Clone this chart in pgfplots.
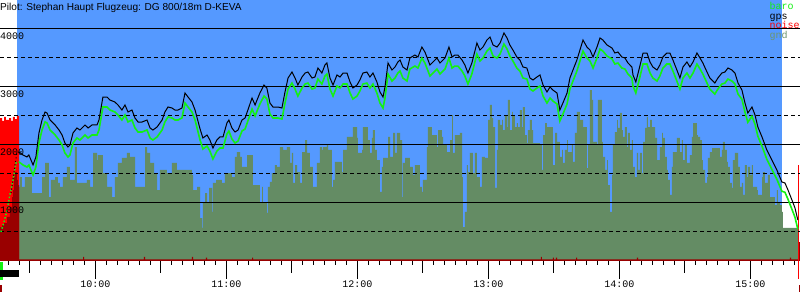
\documentclass[border=0pt]{standalone}
\usepackage{fontspec}
\setmainfont{Liberation Sans}
\newfontfamily\monofont{Liberation Mono}
\usepackage{pgfplots}
\usepackage{pgfplotstable}
\pgfplotsset{compat=1.18}
\definecolor{bgblue}{RGB}{85,153,255}
\definecolor{gndgreen}{RGB}{100,140,100}
\definecolor{barogreen}{RGB}{20,240,20}
\definecolor{noisered}{RGB}{255,0,0}
\definecolor{darkred}{RGB}{153,0,0}
\definecolor{gndtext}{RGB}{110,150,110}

% time in minutes after 09:00, altitude in m
\pgfplotstableread{
t gps baro
25.0 1879 1707
26.8 1827 1655
28.6 1793 1621
29.5 1827 1655
31.4 1655 1483
32.7 1793 1621
34.1 2207 2035
35.5 2431 2259
36.9 2569 2397
37.8 2552 2380
39.2 2431 2259
41.5 2345 2173
43.3 2258 2086
44.7 2172 2000
46.0 2034 1862
47.4 1965 1793
48.3 2000 1828
49.7 2207 2035
51.5 2293 2121
52.9 2258 2086
55.2 2345 2173
56.6 2293 2121
58.4 2345 2173
60.7 2345 2173
61.6 2431 2259
63.4 2827 2655
65.3 2827 2655
66.6 2776 2604
68.9 2741 2569
70.3 2690 2518
72.1 2603 2431
73.5 2690 2518
74.9 2569 2397
76.7 2603 2431
78.1 2465 2293
79.5 2396 2224
81.3 2396 2224
83.6 2431 2259
85.0 2293 2121
86.3 2258 2086
88.2 2310 2138
90.5 2431 2259
91.8 2569 2397
93.2 2655 2483
95.0 2638 2466
96.4 2603 2431
97.8 2603 2431
99.6 2638 2466
101.0 2896 2724
102.4 2827 2655
104.2 2741 2569
105.6 2603 2431
107.9 2276 2086
109.2 2121 1931
111.1 2172 1982
112.4 2086 1896
113.8 1948 1758
115.6 2086 1896
117.0 2138 1948
118.4 2138 1948
120.2 2379 2189
121.1 2431 2241
122.5 2293 2103
123.9 2224 2034
125.3 2258 2068
127.1 2431 2241
128.5 2465 2275
129.8 2603 2413
131.7 2810 2620
133.1 2690 2500
134.0 2776 2586
135.3 2896 2706
137.2 3034 2844
138.5 2983 2793
139.9 2724 2534
141.3 2655 2465
143.6 2655 2465
145.4 2638 2448
146.8 2914 2724
148.2 3155 2965
150.0 3258 3068
151.4 3155 2965
152.7 3034 2844
154.6 3172 2982
156.0 3241 3051
157.3 3258 3068
159.2 3155 2965
160.5 3172 2982
161.9 3327 3137
163.7 3241 3051
165.1 3379 3189
166.0 3414 3224
167.4 3155 2965
168.8 3034 2844
170.6 3207 3017
172.0 3172 2982
173.4 3241 3051
175.2 3241 3051
176.6 3086 2896
177.9 2983 2793
179.8 3034 2844
181.1 3121 2931
182.5 3241 3051
184.3 3258 3068
185.7 3172 2982
187.1 3241 3051
188.9 3086 2896
190.3 2914 2724
191.7 2827 2637
192.6 3000 2810
194.0 3414 3224
195.8 3293 3103
197.2 3345 3155
198.5 3431 3241
199.5 3465 3275
200.8 3345 3155
202.7 3293 3103
204.0 3500 3310
206.3 3551 3361
207.7 3517 3327
209.5 3689 3499
210.9 3603 3413
213.2 3379 3189
214.6 3431 3241
216.4 3500 3310
217.8 3414 3224
220.1 3500 3310
221.9 3689 3499
223.3 3517 3327
224.6 3551 3361
226.0 3551 3361
227.9 3465 3275
229.2 3379 3189
230.6 3241 3051
232.4 3414 3224
234.7 3758 3568
236.1 3638 3448
237.5 3689 3499
239.3 3810 3620
240.7 3862 3672
242.1 3724 3534
243.9 3689 3499
245.3 3758 3568
247.1 3931 3741
248.5 3845 3655
249.8 3724 3534
251.2 3638 3448
253.0 3517 3327
254.4 3465 3275
255.8 3345 3155
257.6 3327 3137
259.0 3155 2965
260.4 3121 2931
262.2 3172 2982
263.6 3207 3017
265.0 3034 2844
266.8 2914 2724
268.2 3000 2810
269.5 2948 2758
271.4 2896 2706
272.7 2603 2413
274.1 2724 2534
276.0 2896 2706
277.3 3155 2965
278.7 3293 3103
280.5 3465 3275
281.9 3638 3448
283.3 3810 3620
285.1 3689 3499
286.5 3638 3448
287.9 3517 3327
289.7 3689 3499
291.1 3845 3655
292.4 3810 3620
294.3 3724 3534
296.6 3672 3482
297.9 3586 3396
299.3 3603 3413
301.1 3517 3327
302.5 3500 3310
303.9 3414 3224
305.7 3345 3155
306.2 3207 3017
307.5 3086 2896
308.9 3293 3103
310.8 3586 3396
312.6 3586 3396
314.0 3431 3241
315.3 3345 3155
317.2 3293 3103
318.5 3379 3189
319.9 3517 3327
321.7 3586 3396
323.1 3586 3396
324.5 3465 3275
326.3 3293 3103
327.7 3155 2965
329.1 3345 3155
330.9 3431 3241
332.3 3345 3155
333.7 3431 3241
335.5 3586 3396
336.9 3500 3310
338.2 3414 3224
340.1 3258 3068
341.4 3155 2965
343.7 3069 2879
345.1 3155 2965
346.9 3241 3051
348.3 3258 3068
349.7 3327 3137
351.5 3293 3103
352.9 3241 3051
354.3 3069 2879
356.1 2948 2788
357.5 2724 2564
358.8 2552 2392
360.7 2655 2495
362.1 2517 2357
363.4 2310 2150
365.3 2138 1978
367.5 1914 1754
369.8 1741 1581
372.1 1569 1409
374.4 1362 1202
375.8 1345 1185
377.2 1224 1064
379.0 1052 892
380.4 914 754
381.7 707 547
}\flight

\pgfplotstableread{
t gnd
25.0 1276
25.4 1448
26.3 1276
27.7 1448
30.9 1172
35.5 1448
36.9 1690
38.7 1103
39.6 1397
41.5 1448
42.8 1345
43.7 1276
45.1 1448
46.9 1621
48.3 1397
50.6 1965
51.5 1345
56.1 1397
57.5 1276
58.9 1862
60.7 1741
61.1 1827
63.4 1517
65.3 1276
67.6 1103
68.9 1448
70.3 1690
72.1 1776
74.4 1862
75.8 1793
78.1 1276
82.7 1965
83.6 1862
85.0 1690
86.8 1517
88.2 1224
89.5 1569
92.7 1517
95.0 1690
97.3 1569
104.2 1483
104.7 1224
106.5 1276
107.9 741
108.8 569
109.2 1000
110.2 1172
111.1 1000
112.0 1259
113.4 845
113.8 1345
115.2 1397
117.9 1345
119.3 1517
122.5 1448
123.9 1793
124.8 1879
126.2 1793
127.1 1621
129.4 1827
132.1 1310
135.3 1017
136.3 1276
136.7 1000
138.5 828
139.0 1276
139.9 1362
140.8 1517
142.2 1655
143.1 1621
144.5 1965
145.9 1914
147.7 1965
149.1 1690
150.0 1862
150.5 1345
151.4 1655
152.3 1534
153.7 1345
154.6 1879
156.0 2086
156.9 1862
158.2 1621
159.6 1276
161.4 1690
162.8 1965
163.7 1914
164.2 1965
166.0 2000
166.5 1914
168.3 1276
168.8 1397
169.7 1707
172.9 1534
173.4 1914
175.2 2138
177.9 2310
179.8 2121
180.2 1862
182.1 1914
182.5 2310
184.8 2086
185.7 1862
186.6 2121
187.1 2258
188.0 1914
188.9 1741
190.3 1190
191.2 1621
191.7 1776
194.0 2138
194.9 1793
196.3 2207
197.2 1862
198.1 2207
199.5 2086
200.4 1103
200.8 1690
201.8 1776
204.0 1621
205.4 1483
206.3 1655
208.6 1276
209.5 1190
210.0 1397
211.8 1965
212.3 2310
214.1 2172
216.4 1965
216.9 2258
218.7 2138
219.2 2000
221.0 1879
222.4 2086
223.3 2517
223.7 1862
224.6 2172
226.9 2207
227.9 1448
228.3 586
229.2 845
230.1 1655
230.6 1534
231.5 1862
232.9 1517
233.8 1862
234.7 1448
236.1 1276
237.0 1793
238.4 1776
239.8 2431
240.7 2690
241.6 2465
242.1 2310
243.0 1259
243.9 1914
244.3 2431
245.3 2345
246.2 2431
246.6 2258
247.5 2517
248.5 2310
248.9 2776
249.8 2258
250.8 2569
251.2 2517
252.1 2310
253.0 2379
253.5 2310
254.4 2603
255.3 2310
255.8 2655
256.7 2172
257.6 2034
258.1 2258
259.0 2431
259.9 2258
260.4 2034
263.6 2000
264.5 1569
265.0 2172
265.9 2379
266.8 2310
269.5 1655
270.5 2207
271.4 2052
272.7 1793
273.7 1914
274.1 1690
275.0 1914
276.0 2086
276.4 1879
278.2 2000
278.7 1707
279.6 2207
280.5 2569
281.9 2431
283.3 2310
285.1 1603
285.6 2000
286.5 2948
287.4 2776
287.9 2052
289.7 2000
290.1 2776
292.0 2052
292.4 1793
293.4 1569
294.3 1741
294.7 1310
295.6 845
296.6 1483
297.0 2000
297.9 2224
298.9 2431
299.3 2293
300.2 2552
301.1 2258
301.6 2138
302.5 2310
303.4 1965
303.9 2207
304.8 1914
305.7 2086
306.2 1621
307.1 1448
308.0 1862
308.5 1569
309.4 1862
310.3 1517
310.8 2052
311.7 2293
312.6 2483
313.0 2310
314.0 2431
314.9 2310
316.3 2121
317.2 1741
318.5 1965
319.5 2207
319.9 2121
320.8 1793
321.7 1569
322.2 1397
323.1 1138
324.0 1621
324.5 1879
326.3 2121
327.7 1879
328.6 2086
329.1 1741
330.0 2000
330.9 1690
332.3 1827
333.2 2138
333.7 2379
335.5 2172
335.9 2138
336.9 2086
337.8 1741
338.2 1569
339.2 1345
340.1 1448
340.5 1776
341.4 1879
342.4 1948
346.0 1793
346.9 1914
347.4 2052
348.3 1914
349.2 1707
349.7 1621
350.6 1345
351.5 1259
352.0 1741
352.9 1862
354.3 1621
355.2 1276
356.1 1345
356.6 1138
357.5 1655
358.4 1448
358.8 1621
359.8 1483
360.7 1655
361.1 1276
363.0 1224
363.4 1138
365.3 1448
365.7 1534
366.6 1345
368.0 1483
368.9 1103
371.2 965
372.1 1224
372.6 1017
373.5 965
374.4 845
374.9 569
381.7 569
}\ground

\begin{document}
\begin{tikzpicture}
\begin{axis}[
  scale only axis, width=800pt, height=261pt,
  xmin=16.26, xmax=382.7, ymin=0, ymax=4500,
  axis x line*=bottom, axis y line=none,
  x axis line style={black, line width=1pt, -},
  clip=false,
  xtick={60,120,180,240,300,360},
  xticklabels={10:00,11:00,12:00,13:00,14:00,15:00},
  minor xtick={20,25,...,380},
  extra x ticks={30,90,150,210,270,330},
  extra x tick labels={},
  extra x tick style={major tick length=12pt},
  ytick=\empty,
  tick align=outside,
  major tick length=18pt, minor tick length=4pt,
  tick style={black, line width=1pt},
  xticklabel style={font=\monofont\fontsize{10}{10}\selectfont, inner sep=2pt},
]
\coordinate (SW) at (rel axis cs:0,0);
\coordinate (NE) at (rel axis cs:1,1);
% flight period background
\addplot[fill=bgblue, draw=none] coordinates {(24.0,4500) (374.4,4500)} \closedcycle;
% ground
\addplot[const plot, fill=gndgreen, draw=none] table[x=t, y=gnd] {\ground} \closedcycle;
% noise
\addplot[const plot, fill=noisered, draw=none] coordinates {(16.26,2465) (17.2,2414) (18.1,2483) (19.0,2431) (20.4,2465) (21.3,2414) (22.2,2483) (23.1,2448) (24.0,2500) (25.0,2500)} \closedcycle;
\addplot[const plot, fill=darkred, draw=none] coordinates {(16.26,586) (17.2,621) (18.1,655) (19.5,759) (20.8,931) (21.8,1103) (22.2,1224) (22.7,1448) (23.1,1534) (24.0,1397) (24.5,1310) (25.0,1310)} \closedcycle;
\addplot[const plot, fill=darkred, draw=none] coordinates {(25.0,26) (54.3,70) (54.8,26) (82.2,70) (82.7,26) (104.2,70) (104.7,26) (110.6,60) (111.1,26) (131.7,60) (132.2,26) (264.0,70) (264.5,26) (269.5,60) (270.0,26) (270.9,60) (271.4,26) (280.1,60) (280.6,26) (308.0,60) (308.5,26) (378.1,60) (378.6,26) (381.7,26)} \closedcycle;
\addplot[fill=noisered, draw=none] coordinates {(381.7,1655) (382.2,1655)} \closedcycle;
\addplot[fill=darkred, draw=none] coordinates {(382.2,328) (382.7,328)} \closedcycle;
% grid
\addplot[black, line width=1pt] coordinates {(16.26,1000) (382.7,1000)};
\addplot[black, line width=1pt] coordinates {(16.26,2000) (382.7,2000)};
\addplot[black, line width=1pt] coordinates {(16.26,3000) (382.7,3000)};
\addplot[black, line width=1pt] coordinates {(16.26,4000) (382.7,4000)};
\addplot[black, line width=1pt, dash pattern=on 4pt off 3pt] coordinates {(16.26,500) (382.7,500)};
\addplot[black, line width=1pt, dash pattern=on 4pt off 3pt] coordinates {(16.26,1500) (382.7,1500)};
\addplot[black, line width=1pt, dash pattern=on 4pt off 3pt] coordinates {(16.26,2500) (382.7,2500)};
\addplot[black, line width=1pt, dash pattern=on 4pt off 3pt] coordinates {(16.26,3500) (382.7,3500)};
% baro and gps
\addplot[barogreen, line width=1.5pt, dash pattern=on 1.5pt off 2pt] coordinates {(16.7,500) (18.1,672) (19.5,879) (20.8,1138) (22.2,1397) (23.6,1690) (25.0,1707)};
\addplot[barogreen, line width=1.6pt] table[x=t, y=baro] {\flight};
\addplot[black, line width=1pt, dash pattern=on 1pt off 2.5pt] coordinates {(21.3,1172) (22.2,1397) (23.1,1655) (24.0,1862) (25.0,1879)};
\addplot[black, line width=1pt] table[x=t, y=gps] {\flight};
% status bars below the axis
\addplot[fill=barogreen, draw=none] coordinates {(16.26,-17) (16.26,-328) (17.6,-328) (17.6,-17)} --cycle;
\addplot[fill=black, draw=none] coordinates {(16.26,-155) (16.26,-276) (25.0,-276) (25.0,-155)} --cycle;
\addplot[fill=darkred, draw=none] coordinates {(16.26,-414) (16.26,-534) (17.2,-534) (17.2,-414)} --cycle;
\addplot[fill=noisered, draw=none] coordinates {(381.7,0) (381.7,-310) (382.2,-310) (382.2,0)} --cycle;
\addplot[fill=darkred, draw=none] coordinates {(382.2,-414) (382.2,-534) (382.7,-534) (382.7,-414)} --cycle;
% labels
\node[anchor=north west, inner sep=0pt, font=\monofont\fontsize{10}{10}\selectfont, yshift=-3.7pt] at (axis cs:16.26,1000) {1000};
\node[anchor=north west, inner sep=0pt, font=\monofont\fontsize{10}{10}\selectfont, yshift=-3.7pt] at (axis cs:16.26,2000) {2000};
\node[anchor=north west, inner sep=0pt, font=\monofont\fontsize{10}{10}\selectfont, yshift=-3.7pt] at (axis cs:16.26,3000) {3000};
\node[anchor=north west, inner sep=0pt, font=\monofont\fontsize{10}{10}\selectfont, yshift=-3.7pt] at (axis cs:16.26,4000) {4000};
\node[anchor=north west, inner sep=0pt, font=\fontsize{10.1}{12}\selectfont, yshift=-3pt] at (rel axis cs:0,1) {Pilot: Stephan Haupt Flugzeug: DG 800/18m D-KEVA};
\node[anchor=base west, inner sep=0pt, text=barogreen, font=\monofont\fontsize{10}{10}\selectfont] at (axis cs:368.7,4336) {baro};
\node[anchor=base west, inner sep=0pt, text=black, font=\monofont\fontsize{10}{10}\selectfont] at (axis cs:368.7,4172) {gps};
\node[anchor=base west, inner sep=0pt, text=noisered, font=\monofont\fontsize{10}{10}\selectfont] at (axis cs:368.7,4000) {noise};
\node[anchor=base west, inner sep=0pt, text=gndtext, font=\monofont\fontsize{10}{10}\selectfont] at (axis cs:368.7,3830) {gnd};
\end{axis}
\pgfresetboundingbox
\path[use as bounding box] ([yshift=-39pt]SW) rectangle (NE);
\end{tikzpicture}
\end{document}
